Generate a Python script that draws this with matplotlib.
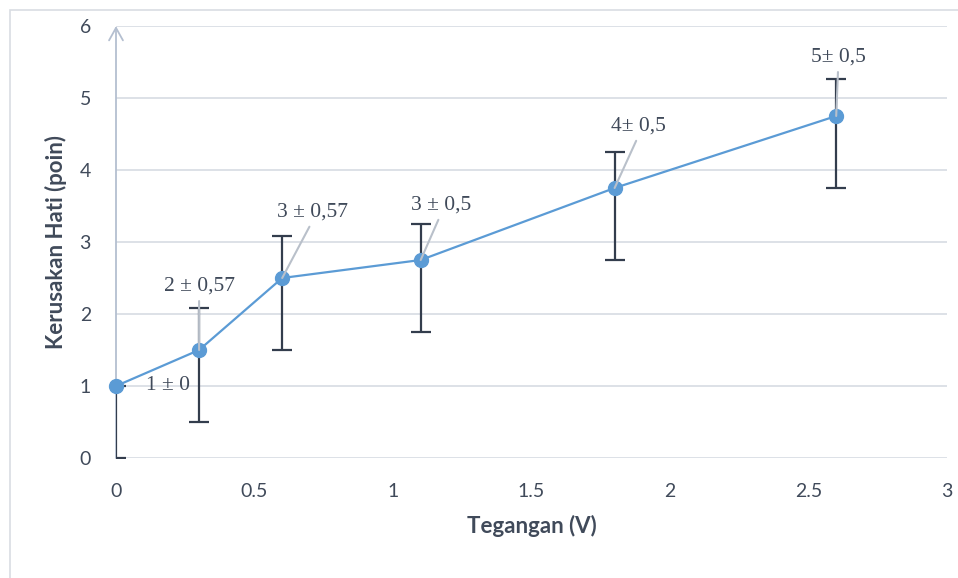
import matplotlib.pyplot as plt
from matplotlib.patches import Rectangle

# data
tegangan = [0, 0.3, 0.6, 1.1, 1.8, 2.6]
kerusakan = [1, 1.5, 2.5, 2.75, 3.75, 4.75]
err_bawah = [1, 1, 1, 1, 1, 1]
err_atas = [0, 0.58, 0.58, 0.5, 0.5, 0.52]
label_titik = ['1 ± 0', '2 ± 0,57', '3 ± 0,57', '3 ± 0,5', '4± 0,5', '5± 0,5']
# label offsets in pixels from each point (layout only)
offset_label = [(52, 0), (0, 64), (30, 66), (20, 55), (24, 62), (2, 59)]
pakai_garis = [False, True, True, True, True, True]

teks = '#404a5a'
biru = '#5b9bd5'

fig = plt.figure(figsize=(9.58, 5.78), dpi=100)
fig.patches.append(Rectangle((10 / 958, -0.1), 1.2, 1.1 - 10 / 578,
                             transform=fig.transFigure, fill=False,
                             edgecolor='#d9dde3', linewidth=1.2))
ax = fig.add_axes([116 / 958, 1 - 458 / 578, (947 - 116) / 958, (458 - 26) / 578])

ax.set_xlim(0, 3)
ax.set_ylim(0, 6)
for s in ax.spines.values():
    s.set_visible(False)
ax.set_yticks(range(7))
ax.set_xticks([0, 0.5, 1, 1.5, 2, 2.5, 3])
ax.set_xticklabels(['0', '0.5', '1', '1.5', '2', '2.5', '3'])
ax.tick_params(length=0, labelsize=14, labelcolor=teks)
ax.tick_params(axis='x', pad=18)
ax.tick_params(axis='y', pad=18)
for lb in ax.get_xticklabels() + ax.get_yticklabels():
    lb.set_family('Lato')
ax.grid(axis='y', color='#dadee5', linewidth=1.3)
ax.set_axisbelow(True)

# y axis with open arrow head
ax.annotate('', xy=(0, 6), xytext=(0, 0),
            arrowprops=dict(arrowstyle='->,head_length=0.9,head_width=0.5',
                            color='#b4bfd0', lw=1.3, shrinkA=0, shrinkB=0),
            annotation_clip=False, zorder=1)

ax.errorbar(tegangan, kerusakan, yerr=[err_bawah, err_atas], fmt='none',
            ecolor='#333d4d', elinewidth=1.6, capsize=7, capthick=1.6, zorder=2)
ax.plot(tegangan, kerusakan, color=biru, linewidth=1.6, marker='o',
        markersize=10, markerfacecolor=biru, markeredgecolor=biru,
        clip_on=False, zorder=4)

for x, y, s, off, garis in zip(tegangan, kerusakan, label_titik, offset_label, pakai_garis):
    props = None
    if garis:
        props = dict(arrowstyle='-', color='#b9c0ca', lw=1.5,
                     shrinkA=2, shrinkB=0, relpos=(0.5, 0))
    ax.annotate(s, xy=(x, y), xytext=off, textcoords='offset pixels',
                ha='center', va='center', fontsize=15.5, color=teks,
                family='Liberation Serif', arrowprops=props, zorder=5)

ax.set_xlabel('Tegangan (V)', fontsize=16, fontweight='bold', color=teks,
              family='Lato')
ax.set_ylabel('Kerusakan Hati (poin)', fontsize=16, fontweight='bold', color=teks,
              family='Lato')
ax.xaxis.set_label_coords(0.5, -0.132)
ax.yaxis.set_label_coords(-0.059, 0.5)

fig.savefig('out.png', dpi=100)
